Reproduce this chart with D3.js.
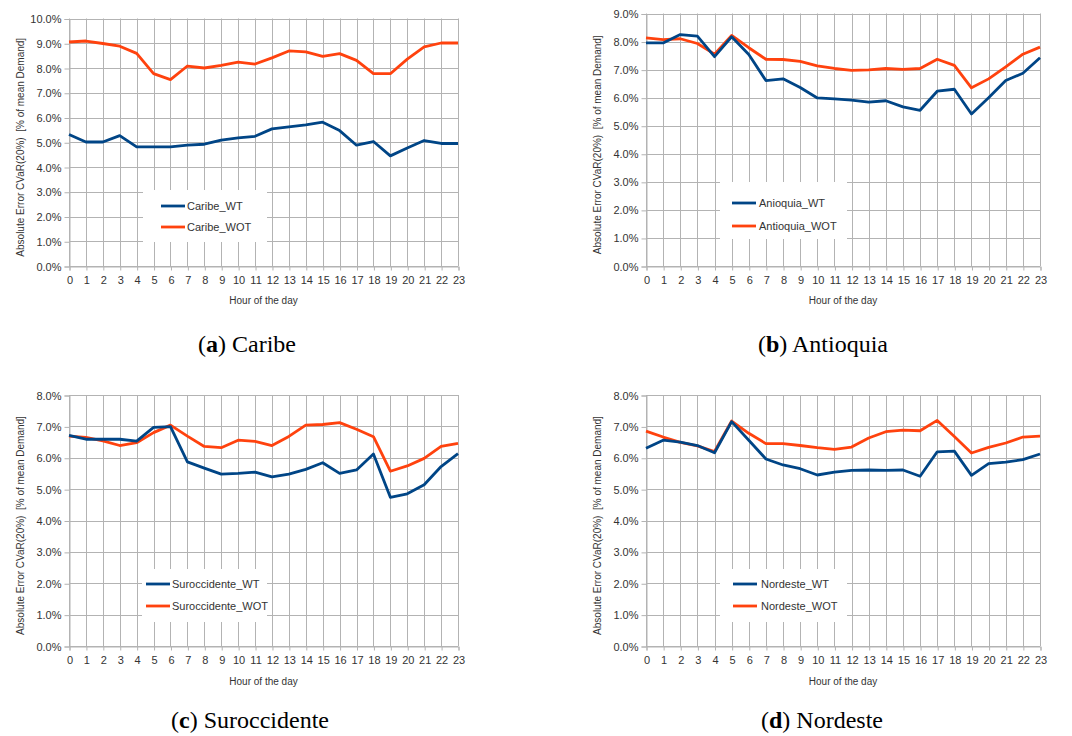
<!DOCTYPE html>
<html>
<head>
<meta charset="utf-8">
<script src="https://cdn.jsdelivr.net/npm/d3@7"></script>
<style>
  body { margin: 0; background: #fff; }
  svg { display: block; }
</style>
</head>
<body>
<svg id="chart" width="1072" height="736"></svg>
<script>
// hours on the x axis
var hours = d3.range(0, 24);

// values in % of mean demand
var caribeWT  = [5.31, 5.01, 5.01, 5.27, 4.81, 4.81, 4.81, 4.88, 4.92, 5.09, 5.18, 5.24, 5.54, 5.62, 5.70, 5.81, 5.47, 4.88, 5.03, 4.45, 4.77, 5.07, 4.95, 4.95];
var caribeWOT = [9.05, 9.09, 8.99, 8.88, 8.59, 7.77, 7.53, 8.08, 8.00, 8.11, 8.24, 8.16, 8.41, 8.69, 8.65, 8.47, 8.58, 8.31, 7.77, 7.77, 8.36, 8.85, 9.01, 9.01];

var antioquiaWT  = [7.95, 7.95, 8.25, 8.19, 7.46, 8.17, 7.54, 6.61, 6.67, 6.36, 5.99, 5.96, 5.91, 5.84, 5.89, 5.67, 5.55, 6.23, 6.30, 5.42, 6.00, 6.61, 6.87, 7.42];
var antioquiaWOT = [8.13, 8.07, 8.10, 7.93, 7.55, 8.22, 7.78, 7.37, 7.36, 7.29, 7.13, 7.04, 6.97, 6.99, 7.04, 7.01, 7.04, 7.37, 7.15, 6.35, 6.67, 7.10, 7.55, 7.80];

var suroccWT  = [6.71, 6.59, 6.59, 6.59, 6.53, 6.97, 6.99, 5.87, 5.67, 5.48, 5.50, 5.54, 5.39, 5.48, 5.63, 5.84, 5.50, 5.61, 6.12, 4.74, 4.85, 5.14, 5.72, 6.13];
var suroccWOT = [6.69, 6.65, 6.54, 6.39, 6.48, 6.80, 7.04, 6.69, 6.36, 6.32, 6.56, 6.52, 6.39, 6.68, 7.04, 7.06, 7.12, 6.91, 6.67, 5.57, 5.74, 5.98, 6.36, 6.46];

var nordesteWT  = [6.30, 6.56, 6.50, 6.39, 6.16, 7.15, 6.56, 5.96, 5.77, 5.65, 5.45, 5.54, 5.60, 5.61, 5.60, 5.61, 5.41, 6.19, 6.21, 5.44, 5.81, 5.86, 5.94, 6.12];
var nordesteWOT = [6.85, 6.66, 6.49, 6.38, 6.20, 7.17, 6.78, 6.45, 6.45, 6.39, 6.32, 6.27, 6.34, 6.63, 6.83, 6.88, 6.86, 7.19, 6.68, 6.15, 6.33, 6.47, 6.66, 6.69];

var yMaxes = [10, 9, 8, 8];
var letters = ["a", "b", "c", "d"];
var regions = ["Caribe", "Antioquia", "Suroccidente", "Nordeste"];
var wtNames = ["Caribe_WT", "Anioquia_WT", "Suroccidente_WT", "Nordeste_WT"];
var wotNames = ["Caribe_WOT", "Antioquia_WOT", "Suroccidente_WOT", "Nordeste_WOT"];
var wtSeries = [caribeWT, antioquiaWT, suroccWT, nordesteWT];
var wotSeries = [caribeWOT, antioquiaWOT, suroccWOT, nordesteWOT];

var blue = "#004586", orange = "#ff420e", grid = "#b3b3b3";

// layout of each panel (pixels)
var layout = [
  {left: 69,  right: 458,  top: 18.5, bottom: 266, ytitle: 20,  xtitle: 300, capX: 247, capY: 352,
   box: [143, 190, 124, 52], legX: 161, textX: 187, legY: [206, 227]},
  {left: 646, right: 1040, top: 13.5, bottom: 266, ytitle: 597, xtitle: 300, capX: 823, capY: 352,
   box: [720, 182, 127, 57], legX: 732, textX: 759, legY: [203, 226]},
  {left: 69,  right: 458,  top: 395,  bottom: 646, ytitle: 20,  xtitle: 681, capX: 250, capY: 728,
   box: [142, 569, 125, 53], legX: 146, textX: 172, legY: [584, 606]},
  {left: 646, right: 1040, top: 395,  bottom: 646, ytitle: 597, xtitle: 681, capX: 822, capY: 728,
   box: [720, 569, 127, 53], legX: 733, textX: 761, legY: [584, 606]}
];

var svg = d3.select("#chart");

layout.forEach(function(L, i){
  var g = svg.append("g");
  var x = d3.scaleLinear().domain([0, 23]).range([L.left, L.right]);
  var y = d3.scaleLinear().domain([0, yMaxes[i]]).range([L.bottom, L.top]);
  var yTicks = d3.range(0, yMaxes[i] + 1);

  // grid
  g.append("g").selectAll("line").data(yTicks).join("line")
    .attr("x1", L.left).attr("x2", L.right)
    .attr("y1", function(d){ return Math.round(y(d)) + 0.5; })
    .attr("y2", function(d){ return Math.round(y(d)) + 0.5; })
    .attr("stroke", grid).attr("stroke-width", 1);
  g.append("g").selectAll("line").data(hours).join("line")
    .attr("x1", function(d){ return Math.round(x(d)) + 0.5; })
    .attr("x2", function(d){ return Math.round(x(d)) + 0.5; })
    .attr("y1", L.top).attr("y2", L.bottom)
    .attr("stroke", grid).attr("stroke-width", 1);

  // axes
  var ya = g.append("g").attr("transform", "translate(" + (Math.round(L.left) + 0.5) + ",0.5)")
    .call(d3.axisLeft(y).tickValues(yTicks).tickSize(5).tickPadding(3)
      .tickFormat(function(d){ return d.toFixed(1) + "%"; }));
  var xa = g.append("g").attr("transform", "translate(0.5," + (Math.round(L.bottom) + 0.5) + ")")
    .call(d3.axisBottom(x).tickValues(hours).tickSize(4).tickPadding(4).tickFormat(d3.format("d")));
  [ya, xa].forEach(function(a){
    a.select(".domain").attr("stroke", grid);
    a.selectAll(".tick line").attr("stroke", grid);
    a.selectAll("text").attr("fill", "#333").style("font-family", "Liberation Sans, Arial, sans-serif")
      .style("font-size", "11px");
  });
  xa.selectAll("text").attr("dy", "0.9em");

  // legend box (drawn under the lines)
  g.append("rect").attr("x", L.box[0]).attr("y", L.box[1]).attr("width", L.box[2]).attr("height", L.box[3])
    .attr("fill", "#fff");

  var line = d3.line().x(function(d, j){ return x(hours[j]); }).y(function(d){ return y(d); });
  g.append("path").datum(wotSeries[i]).attr("d", line).attr("fill", "none")
    .attr("stroke", orange).attr("stroke-width", 2.8).attr("stroke-linejoin", "round");
  g.append("path").datum(wtSeries[i]).attr("d", line).attr("fill", "none")
    .attr("stroke", blue).attr("stroke-width", 2.8).attr("stroke-linejoin", "round");

  // legend entries
  [[wtNames[i], blue], [wotNames[i], orange]].forEach(function(e, k){
    g.append("line").attr("x1", L.legX).attr("x2", L.legX + 24)
      .attr("y1", L.legY[k]).attr("y2", L.legY[k]).attr("stroke", e[1]).attr("stroke-width", 2.8);
    g.append("text").attr("x", L.textX).attr("y", L.legY[k]).attr("dy", "0.35em")
      .attr("fill", "#333").style("font-family", "Liberation Sans, Arial, sans-serif")
      .style("font-size", "11px").text(e[0]);
  });

  // axis titles
  g.append("text").attr("transform", "translate(" + L.ytitle + "," + ((L.top + L.bottom) / 2 + 5) + ") rotate(-90)")
    .attr("text-anchor", "middle").attr("dy", "0.35em").attr("fill", "#333")
    .style("font-family", "Liberation Sans, Arial, sans-serif").style("font-size", "10px")
    .text("Absolute Error CVaR(20%)  [% of mean Demand]").attr("xml:space", "preserve");
  g.append("text").attr("x", (L.left + L.right) / 2).attr("y", L.xtitle).attr("dy", "0.35em")
    .attr("text-anchor", "middle").attr("fill", "#333")
    .style("font-family", "Liberation Sans, Arial, sans-serif").style("font-size", "10px")
    .text("Hour of the day");

  // caption
  var cap = g.append("text").attr("x", L.capX).attr("y", L.capY).attr("text-anchor", "middle")
    .attr("fill", "#000").style("font-family", "Liberation Serif, 'DejaVu Serif', serif").style("font-size", "24px");
  cap.append("tspan").text("(");
  cap.append("tspan").style("font-weight", "bold").text(letters[i]);
  cap.append("tspan").text(") " + regions[i]);
});
</script>
</body>
</html>
